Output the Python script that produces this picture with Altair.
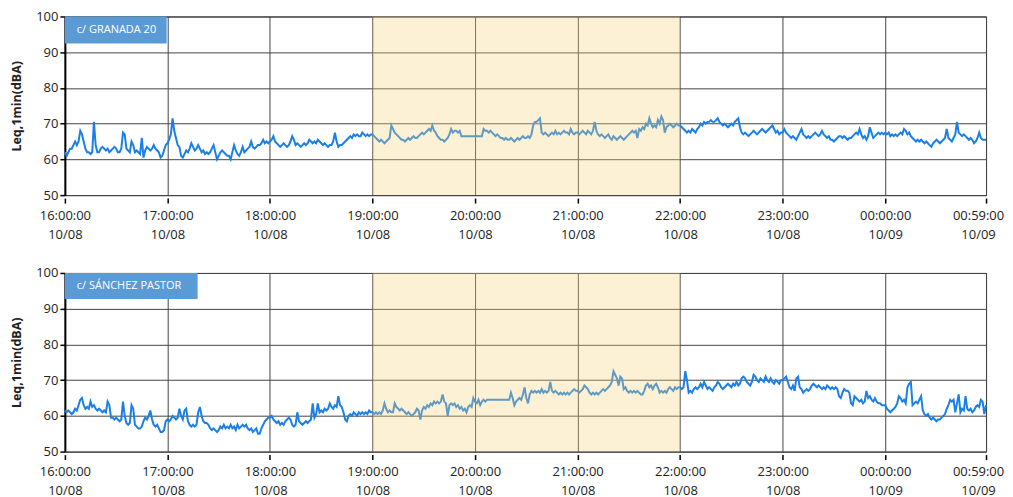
import altair as alt
import pandas as pd

N = None
# ---- c/ GRANADA 20, Leq 1 min (dBA), one value per minute, 16:00 .. 00:59
G16 = [62,61,62,63,63,64,65,64,65,68, 67,65,63,62,62,61.5,62,70.5,64,62, 62,63,63.5,63,62.5,63,62,62.5,63,63.5,
       63,62,62,63,67.5,67,63,62.5,62,65, 64,62,62.5,62,61.5,66,60.5,62.5,63.5,63, 62.5,63,64,63,62.5,62,60.5,61,62.5,64]
G17 = [64.5,65.5,67,71.5,68,66,64,63.5,61,60.5, 61.5,62.5,62,63,64.5,63.5,62.5,63,64,63, 62,62.5,61.5,62,61.5,62,63,64,62,60,
       61,62,62.5,62,61.5,61,61,60,62,64, 62.5,61.5,61,62,63.5,62,62.5,63,63.5,65, 63.5,63,63.5,64,64,64.5,65.5,64.5,65,64.5]
G18 = [65,65.5,66.5,65,64.5,64,63.5,64,64.5,64, 63.5,64,65,66.5,65.5,64,64.5,64,63.5,64, 64.5,64,64.5,65.5,65,64.5,65,64.5,65.5,65,
       64.5,64,64.5,64,63.5,64,64,65,67.5,65, 63.5,64,64,64.5,65,65.5,66,66.5,66,67, 66.5,67,66.5,66.5,67.5,67,66.5,67,66.5,67]
G19 = [67,66.5,66,65.5,65,65.5,65,64.5,65,65.5, 66,69.5,68.5,67.5,67,66.5,66,65.5,65.5,65, 65.5,66,65.5,66,66.5,66,66,66.5,67,67.5,
       67,67.5,68,68.5,68,69.5,68,67.5,66.5,66, 65.5,65.5,65,65.5,66,67,68.5,67.5,68,68, 67.5,68,66.5,N,N,N,N,N,N,N]
G20 = [N,N,N,N,66.5,68.5,68,68,67.5,68, 67.5,67,66.5,67,66.5,66,66,65.5,66,65.5, 65.5,66,65.5,65,65.5,66,65.5,66,66.5,66,
       66,66.5,66,67,69.5,70.5,70.5,71,71.5,67.5, 67,67.5,67,66.5,67,67.5,67,68,67,67.5, 67,67.5,68,67.5,67.5,67,68.5,67.5,67,67.5]
G21 = [67.5,67,67.5,68,67.5,67,68,67.5,67,68, 70.5,68,67,66.5,67,66.5,66,66.5,67,66, 65.5,66.5,66,65.5,66,66.5,66,65.5,66,66.5,
       67,67.5,68,67.5,68,66,68.5,68,69,68.5, 70,69.5,71.5,70,69,69.5,69,71,70,72, 71,67.5,69,69.5,70,69.5,69,69.5,70,69.5]
G22 = [69.5,69,68.5,68,67.5,68,67.5,68.5,68,67.5, 68.5,69,70,69.5,70.5,70,70.5,70.5,71,70.5, 70.5,71,71.5,70.5,70,69.5,70,69.5,69,69.5,
       70,69.5,70.5,71,71.5,69,67.5,67,67.5,67, 66.5,67,67.5,68,67.5,67,67.5,68,68.5,68, 67.5,68,68.5,69,69.5,68.5,67.5,68,67,67.5]
G23 = [67.5,68.5,67.5,67,66.5,66,66.5,66,65.5,66.5, 67.5,68.5,67,66.5,66,66.5,66,66.5,67,67.5, 67,66.5,67,68,67,66.5,66,66.5,65.5,65.5,
       65,65.5,66,66.5,66.5,66,66.5,66,65.5,66, 66,66.5,67,67.5,67,68.5,67,66,66.5,65.5, 66.5,69,67.5,66,66.5,67,67.5,67,67.5,67]
G00 = [67.5,67,67.5,66.5,67,66.5,67,66.5,67,67.5, 67,68.5,68,67,67.5,66.5,66,65.5,65,65.5, 65,65.5,65,64.5,65,64.5,64,63.5,64.5,65,
       65.5,65,64.5,65,65.5,66,68.5,66,65.5,65, 66,67,70.5,67.5,67,66.5,67,66.5,66,65.5, 66,65.5,64.5,65,66,67.5,66,65.5,65.5,65.5]

# ---- c/ SÁNCHEZ PASTOR
S16 = [61.5,61,61.5,61,60.5,61,62,61.5,63,64.5, 65,63,62,62.5,62,64,62.5,63,62,61.5, 62,61.5,61,61.5,61,64,63,59.5,59.5,59,
       59.5,59,58.5,59,64,60,58,57.5,58,63, 62,57.5,57,56.5,56.5,57,58.5,59.5,59,60, 61.5,59,57.5,57,57.5,56.5,55.5,55.5,56,58.5]
S17 = [59,58.5,59,60,59.5,59,59.5,62,60,59, 61.5,62,58.5,57.5,57,57.5,57,57.5,61,62.5, 60,58.5,58,58,57.5,56.5,56,56.5,56,55.5,
       56,57,56.5,57.5,56.5,57,56.5,57.5,56.5,57, 56,57.5,56.5,57,57.5,57,57.5,56.5,56,56.5, 55.5,56,56.5,55,55,56.5,57.5,58.5,59,59.5]
S18 = [59.5,60,59,58.5,58,58.5,57.5,58,57.5,58.5, 59,59.5,59,57.5,57,57.5,61,58.5,58,57.5, 58,58.5,58,58.5,59,63.5,59.5,60.5,63.5,61,
       61.5,61,62,61.5,62,63.5,62.5,62,63,62.5, 65.5,63,62.5,61,59,58.5,60,60.5,60,61, 60.5,60,61,60.5,61,60.5,61,60.5,61.5,61]
S19 = [61,60.5,61,60.5,61,60.5,61.5,63.5,62,61, 61.5,61,61,63.5,62.5,62,61.5,62,61.5,61, 60.5,61,60.5,60,60.5,61,62,61.5,59,61.5,
       62.5,62,63,62.5,63.5,63,64,63.5,64,63.5, 64,66,64,63.5,60,63,63.5,63,63.5,62.5, 63,62,62.5,61.5,62,61,62.5,63,62.5,65]
S20 = [64,63.5,64.5,63,64,64.5,64,64.5,64.5,N, N,N,N,N,N,N,N,N,N,N, 64.5,66.5,65,63,64,64.5,65,64.5,66,68,
       65,63.5,66,67,66.5,67,66.5,67,66.5,67.5, 66.5,67,66.5,67,69.5,67,66.5,67,66.5,66, 66.5,66,66.5,66,66.5,66,66.5,67,67.5,67]
S21 = [67,66.5,67,67.5,68.5,68,67.5,66.5,66,66.5, 66,66.5,66,66.5,67,67.5,67,67.5,68,68.5, 69.5,72.5,71.5,70.5,68.5,71,70.5,67.5,68,67,
       66.5,67,66.5,67,66.5,67,66.5,66,66,67, 68.5,69,68,68.5,67.5,68.5,69,68,66.5,67, 66.5,67,66.5,67.5,68,67.5,67,68,67.5,68]
S22 = [68,67.5,68,72.5,70,66.5,67,66.5,67.5,68, 67.5,68,69,68,69.5,68.5,67.5,68,67.5,67, 68,68.5,69.5,69,68,67.5,68,68.5,69,68.5,
       68,69,68.5,69.5,68.5,69,70.5,71,70.5,69.5, 69,68.5,69.5,71.5,71,70,69.5,70.5,70,69.5, 71,70,69.5,70.5,69.5,69,70,69.5,69,70]
S23 = [70,70.5,71,69.5,68,67.5,68.5,67,70.5,71, 68,67.5,66.5,67,67.5,67,67.5,68.5,69,68.5, 68,68.5,68,67.5,68,67.5,68.5,68,67.5,68,
       67.5,68,67.5,65.5,65,66.5,67.5,67,67,66.5, 63.5,63,65.5,65,64.5,64,64.5,63.5,64,67, 65,65.5,64.5,64,65,64,63.5,63.5,63,63]
S00 = [63,62,61.5,61,61.5,62,62.5,63.5,65.5,65, 64,64.5,63.5,68,69,69.5,63,63.5,64,63.5, 64.5,65.5,61.5,60.5,60,60.5,59.5,59,59.5,59,
       58.5,59,59,59.5,60,60.5,62,63,64.5,64, 64.5,61,63.5,66,61,62,61.5,65.5,62,61.5, 62,61,61.5,62.5,63,62.5,64.5,64,60.5,63]

GRANADA = G16 + G17 + G18 + G19 + G20 + G21 + G22 + G23 + G00
SANCHEZ = S16 + S17 + S18 + S19 + S20 + S21 + S22 + S23 + S00

START = "2023-10-08 16:00"
TICKS = [(8, 16, 0), (8, 17, 0), (8, 18, 0), (8, 19, 0), (8, 20, 0), (8, 21, 0),
         (8, 22, 0), (8, 23, 0), (9, 0, 0), (9, 0, 59)]
SHADE_START = ["2023-10-08T19:00:00"]
SHADE_END = ["2023-10-08T22:00:00"]
LABELS = ["c/ GRANADA 20", "c/ SÁNCHEZ PASTOR"]

times = pd.date_range(START, periods=len(GRANADA), freq="min").strftime("%Y-%m-%dT%H:%M:%S")

W, H = 923, 179
LINE = "#1a7fe6"
FONT = "Open Sans"


def dt(d, h, m):
    return alt.DateTime(year=2023, month=10, date=d, hours=h, minutes=m)


tick_values = [dt(*t) for t in TICKS]


def panel(values, label, box_w, box_h):
    df = pd.DataFrame({"time": times, "leq": values}).dropna()
    x = alt.X("time:T",
              scale=alt.Scale(domain=[tick_values[0], tick_values[-1]], nice=False),
              axis=alt.Axis(values=tick_values, grid=True, domain=False, offset=3,
                            labelExpr="[timeFormat(datum.value, '%H:%M:%S'), timeFormat(datum.value, '%m/%d')]",
                            labelOverlap=False, labelFlush=False, labelLineHeight=19,
                            labelPadding=6,
                            labelOffset={"condition": {"test": "datum.value > datetime(2023, 9, 9, 0, 30)",
                                                       "value": -8},
                                         "value": 0}),
              title=None)
    y = alt.Y("leq:Q", scale=alt.Scale(domain=[50, 100], nice=False, zero=False),
              axis=alt.Axis(values=[50, 60, 70, 80, 90, 100], grid=True, domainWidth=2,
                            domainColor="black", labelPadding=2),
              title="Leq,1min(dBA)")
    line = alt.Chart(df).mark_line(color=LINE, strokeWidth=2).encode(x=x, y=y)
    shade = alt.Chart(pd.DataFrame({"s": SHADE_START, "e": SHADE_END})).mark_rect(
        color="#f5d27a", opacity=0.32).encode(
        x="s:T", x2="e:T", y=alt.value(0), y2=alt.value(H))
    lab = pd.DataFrame({"label": [label]})
    box = alt.Chart(lab).mark_rect(color="#5b9bd5").encode(
        x=alt.value(0), x2=alt.value(box_w), y=alt.value(0), y2=alt.value(box_h))
    txt = alt.Chart(lab).mark_text(align="left", baseline="middle", color="white",
                                   fontSize=11, font=FONT).encode(
        x=alt.value(12), y=alt.value(box_h / 2), text="label:N")
    return alt.layer(line, shade, box, txt).properties(width=W, height=H)


chart = alt.vconcat(
    panel(GRANADA, LABELS[0], 102, 27),
    panel(SANCHEZ, LABELS[1], 133, 26),
    spacing=78, bounds="flush",
).properties(
    padding={"left": 2, "top": 1, "right": 0, "bottom": 0}
).configure_view(
    stroke="#222", strokeWidth=1
).configure_axis(
    labelFont=FONT, labelFontSize=13, labelColor="#222",
    titleFont=FONT, titleFontSize=12.5, titleFontWeight="bold", titleColor="#222",
    titlePadding=12,
    gridColor="#444", gridWidth=1, gridOpacity=1,
    tickColor="black", tickSize=5, tickWidth=1.5,
)

chart.save("out.html", embed_options={"renderer": "svg", "actions": False})
